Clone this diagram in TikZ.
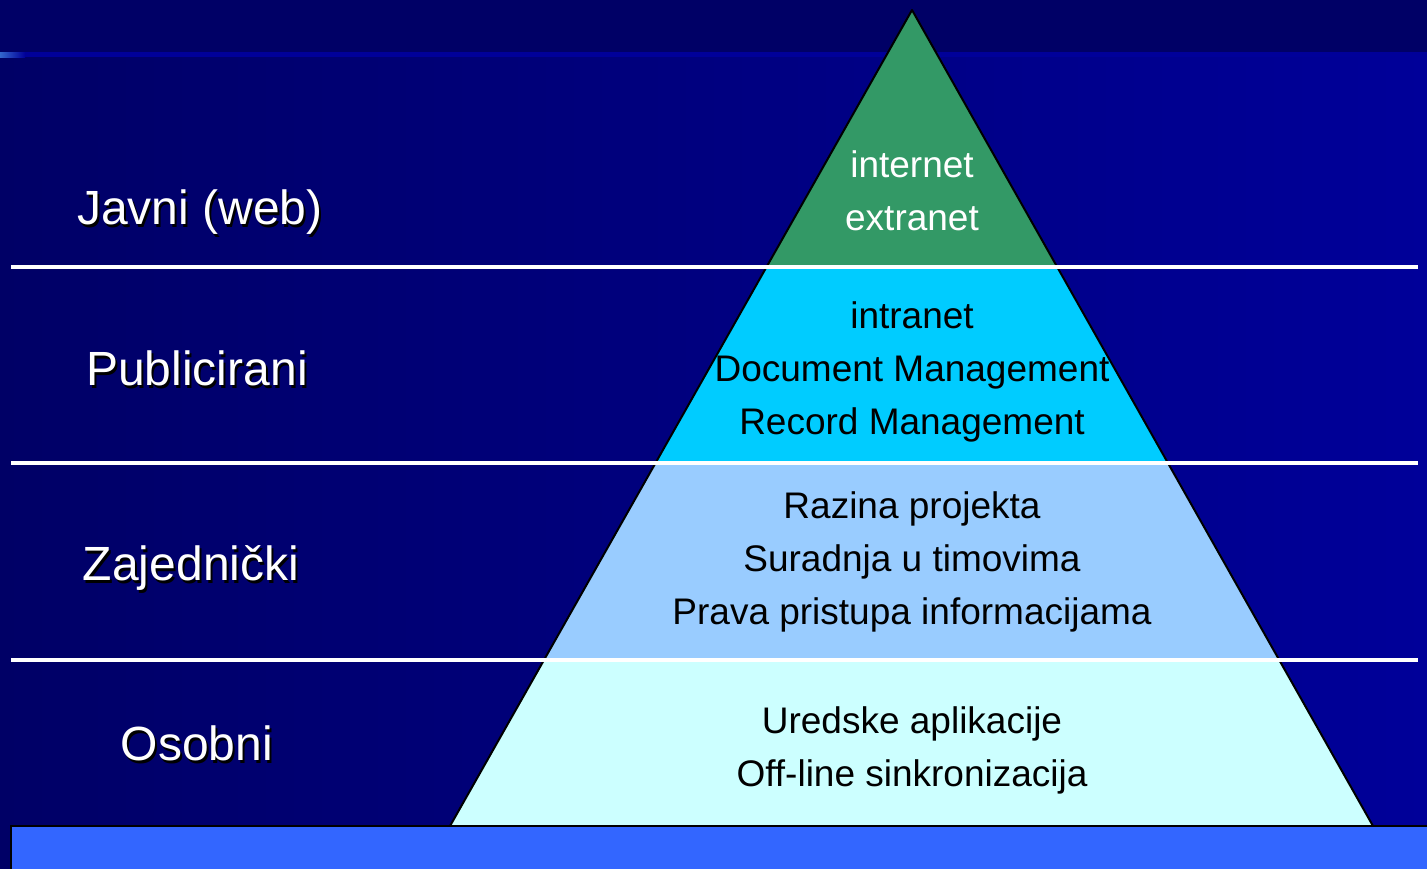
\documentclass[tikz,border=0pt]{standalone}
\usepackage{fontspec}
\setmainfont{Liberation Sans}
\usetikzlibrary{calc}

\definecolor{navy}{HTML}{000066}
\definecolor{royal}{HTML}{000099}
\definecolor{steel}{HTML}{3366CC}
\definecolor{barblue}{HTML}{3366FF}
\definecolor{webgreen}{HTML}{339966}
\definecolor{pubcyan}{HTML}{00CCFF}
\definecolor{sharedblue}{HTML}{99CCFF}
\definecolor{ownpale}{HTML}{CCFFFF}

\begin{document}
\begin{tikzpicture}[x=0.5pt,y=-0.5pt,
    sepline/.style={white,line width=2.4pt},
    tier/.style={line join=round},
    tiertxt/.style={font=\fontsize{18.5}{26.5}\selectfont,align=center,anchor=base,text=black},
    sidetxt/.style={font=\fontsize{24}{28}\selectfont,anchor=base,text=white},
    sideshadow/.style={sidetxt,text=black}]

  % background
  \useasboundingbox (0,0) rectangle (1427,868);
  \shade[left color=navy,right color=royal] (0,0) rectangle (1427,868);
  \fill[navy] (0,0) rectangle (1427,52);
  \shade[left color=steel,right color=royal] (0,52) rectangle (25,57);
  \fill[royal] (25,52) rectangle (1427,57);

  % pyramid corners and tier edges
  \coordinate (apex) at (912,10);
  \coordinate (bl) at (450,826);
  \coordinate (br) at (1373,826);
  \coordinate (l1) at ($(apex)!0.315!(bl)$);
  \coordinate (r1) at ($(apex)!0.315!(br)$);
  \coordinate (l2) at ($(apex)!0.555!(bl)$);
  \coordinate (r2) at ($(apex)!0.555!(br)$);
  \coordinate (l3) at ($(apex)!0.797!(bl)$);
  \coordinate (r3) at ($(apex)!0.797!(br)$);

  \fill[tier,webgreen] (apex) -- (l1) -- (r1) -- cycle;
  \fill[tier,pubcyan] (l1) -- (l2) -- (r2) -- (r1) -- cycle;
  \fill[tier,sharedblue] (l2) -- (l3) -- (r3) -- (r2) -- cycle;
  \fill[tier,ownpale] (l3) -- (bl) -- (br) -- (r3) -- cycle;
  \draw[tier,black,line width=1pt] (bl) -- (apex) -- (br);

  % separators between levels
  \coordinate (s1w) at (11,267);  \coordinate (s1e) at (1418,267);
  \coordinate (s2w) at (11,463);  \coordinate (s2e) at (1418,463);
  \coordinate (s3w) at (11,660);  \coordinate (s3e) at (1418,660);
  \draw[sepline] (s1w) -- (s1e);
  \draw[sepline] (s2w) -- (s2e);
  \draw[sepline] (s3w) -- (s3e);

  % bar under the pyramid
  \fill[barblue] (11,826) rectangle (1432,872);
  \draw[black,line width=1pt] (11,872) -- (11,826) -- (1432,826);

  % level names
  \node[sideshadow] (javnis) at (202,227) {Javni (web)};
  \node[sidetxt] (javni) at (200,224) {Javni (web)};
  \node[sideshadow] (publs) at (199,388) {Publicirani};
  \node[sidetxt] (publ) at (197,385) {Publicirani};
  \node[sideshadow] (zajs) at (193,583) {Zajednički};
  \node[sidetxt] (zaj) at (191,580) {Zajednički};
  \node[sideshadow] (osobs) at (199,763) {Osobni};
  \node[sidetxt] (osob) at (197,760) {Osobni};

  % pyramid contents (anchored on the last line)
  \node[tiertxt,text=white] (web) at (912,230) {internet\\extranet};
  \node[tiertxt] (pub) at (912,434) {intranet\\Document Management\\Record Management};
  \node[tiertxt] (shared) at (912,624) {Razina projekta\\Suradnja u timovima\\Prava pristupa informacijama};
  \node[tiertxt] (own) at (912,786) {Uredske aplikacije\\Off-line sinkronizacija};

\end{tikzpicture}
\end{document}
